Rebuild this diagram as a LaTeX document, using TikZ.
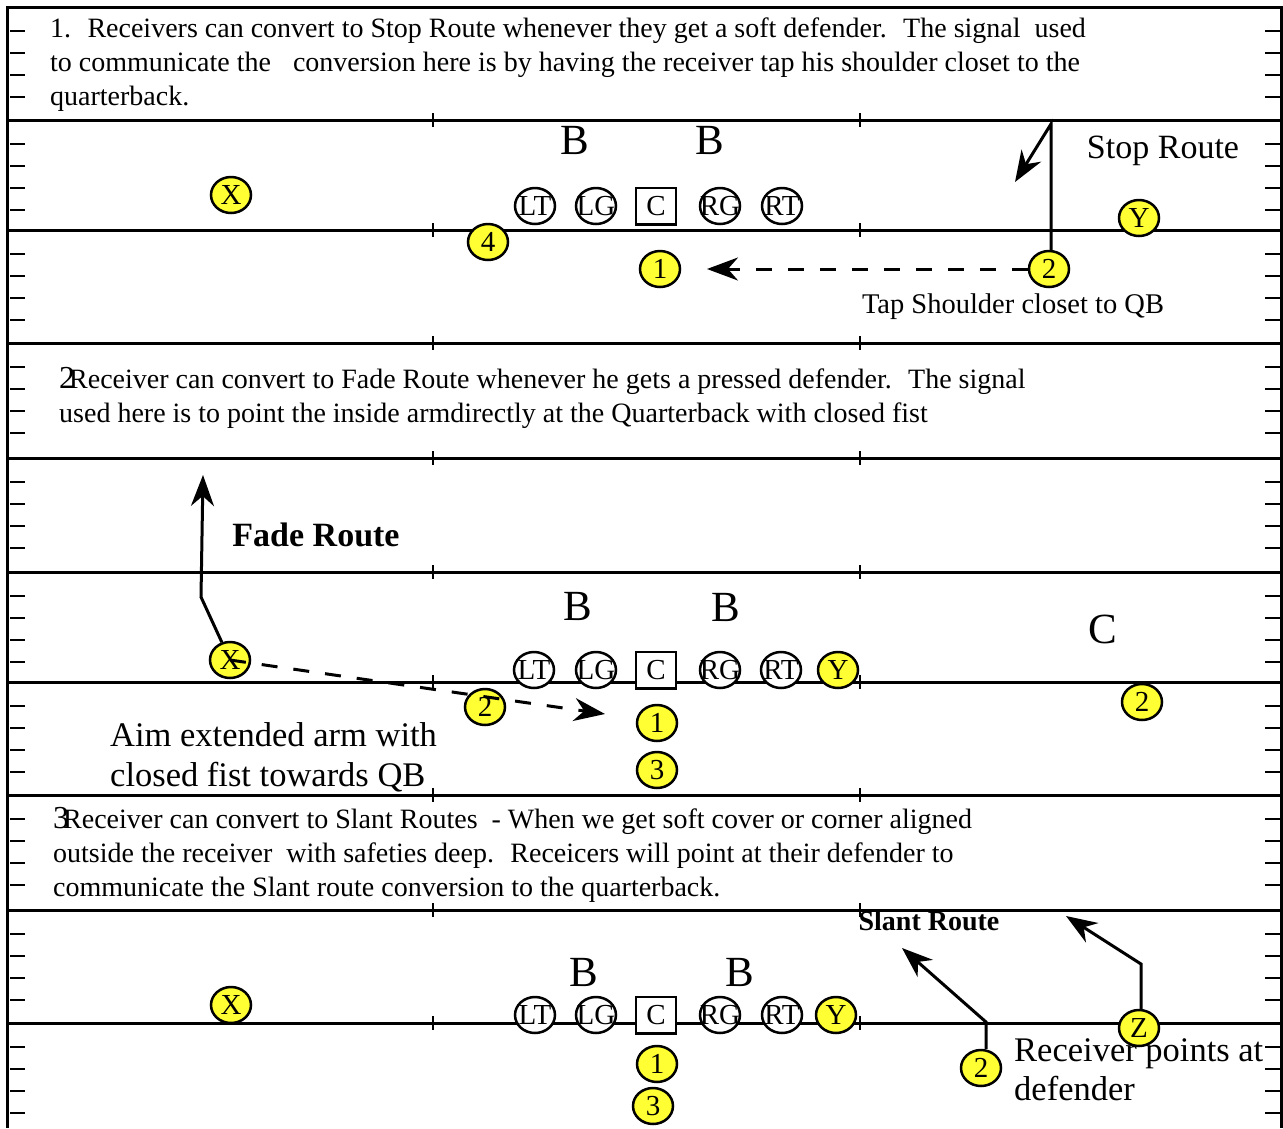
\documentclass[tikz,border=0pt]{standalone}
\usepackage{fontspec}
\setmainfont{Liberation Serif}
\usetikzlibrary{arrows.meta,shapes.geometric}
\definecolor{PlayerYellow}{HTML}{FFFF33}
\newcommand{\setfs}[1]{\fontsize{#1}{#1}\selectfont}

\begin{document}
\begin{tikzpicture}[x=1pt, y=-1pt,
    field/.style={line width=3pt},
    yardtick/.style={line width=2.5pt},
    player/.style={ellipse, draw, line width=2.5pt, fill=PlayerYellow,
      minimum width=40pt, minimum height=36pt, inner sep=0pt, font=\setfs{29},
      execute at begin node={\hbox to 0pt\bgroup\hss},
      execute at end node={\hss\egroup}},
    lineman/.style={player, fill=white},
    centre/.style={draw, line width=2.5pt, fill=white, minimum width=40pt,
      minimum height=36.5pt, inner sep=0pt, font=\setfs{29}},
    backer/.style={inner sep=0pt, font=\setfs{43}},
    memo/.style={anchor=north west, align=left, inner sep=0pt,
      font=\fontsize{28}{33.8}\selectfont},
    remark/.style={anchor=north west, align=left, inner sep=0pt,
      font=\fontsize{34.5}{39.5}\selectfont},
    route/.style={line width=3pt, -{Stealth[length=31pt, width=23pt, inset=10pt]}},
    signal/.style={route, dash pattern=on 16pt off 16pt}
  ]
  \useasboundingbox (0,0) rectangle (1283,1128);
  % field
  \draw[field] (7,1128) -- (7,7) -- (1281,7) -- (1281,1128);
  \foreach \y in {120,230,343,458,572,682,795,910,1023} {
    \draw[field] (7,\y) -- (1281,\y);
    \draw[yardtick] (433,\y-7) -- (433,\y+7);
    \draw[yardtick] (860,\y-7) -- (860,\y+7);
  }
  \foreach \y in {7,120,230,343,458,572,682,795,910,1023}
    \foreach \d in {24,46,68,90} {
      \draw[yardtick] (10,\y+\d) -- (25,\y+\d);
      \draw[yardtick] (1265,\y+\d) -- (1280,\y+\d);
    }

  % 1. stop route
  \node[memo] (text1) at (50,18) {1.~ Receivers can convert to Stop Route whenever they get a soft defender.~ The signal~ used\\
    to communicate the\hspace{22pt}conversion here is by having the receiver tap his shoulder closet to the\\
    quarterback.};
  \node[backer] (bl1) at (575,140) {B};
  \node[backer] (br1) at (710,140) {B};
  \node[lineman] (lt1) at (535,206) {LT};
  \node[lineman] (lg1) at (596,206) {LG};
  \node[centre] (c1) at (656,206) {C};
  \node[lineman] (rg1) at (720,206) {RG};
  \node[lineman] (rt1) at (782,206) {RT};
  \node[player] (x1) at (231,195) {X};
  \node[player] (y1) at (1139,218) {Y};
  \node[player] (four1) at (488,242) {4};
  \node[player] (one1) at (660,269) {1};
  \node[player] (two1) at (1049,269) {2};
  \coordinate (stopturn) at (1051,124);
  \coordinate (stopend) at (1015,182);
  \coordinate (tapend) at (707,269);
  \draw[route] (two1.north -| stopturn) -- (stopturn) -- (stopend);
  \draw[signal] (two1) -- (tapend);
  \node[font=\setfs{34}] (stoplabel) at (1163,151) {Stop Route};
  \node[font=\setfs{28.5}] (taplabel) at (1013,307) {Tap Shoulder closet to QB};

  % 2. fade route
  \node[memo] (text2) at (59,367.5) {{\setfs{32}2}\kern-6pt Receiver can convert to Fade Route whenever he gets a pressed defender.~ The signal\\
    used here is to point the inside armdirectly at the Quarterback with closed fist};
  \node[backer] (bl2) at (578,606) {B};
  \node[backer] (br2) at (726,607) {B};
  \node[lineman] (lt2) at (534,670) {LT};
  \node[lineman] (lg2) at (596,670) {LG};
  \node[centre] (c2) at (656,670) {C};
  \node[lineman] (rg2) at (720,670) {RG};
  \node[lineman] (rt2) at (781,670) {RT};
  \node[player] (y2) at (838,670) {Y};
  \node[player] (x2) at (230,660) {X};
  \node[player] (two2) at (485,707) {2};
  \node[player] (one2) at (657,723) {1};
  \node[player] (three2) at (657,770) {3};
  \node[backer] (cb2) at (1103,629) {C};
  \node[player] (two2r) at (1142,702) {2};
  \coordinate (fadeturn) at (201,597);
  \coordinate (fadeend) at (203,475);
  \coordinate (aimend) at (605,714);
  \draw[route] (x2) -- (fadeturn) -- (fadeend);
  \draw[signal] (x2.center) -- (aimend);
  \node[font=\bfseries\setfs{34}] (fadelabel) at (316,535) {Fade Route};
  \node[remark] (aimlabel) at (110,722.5) {Aim extended arm with\\closed fist towards QB};

  % 3. slant route
  \node[memo] (text3) at (53,807.5) {{\setfs{32}3}\kern-6pt Receiver can convert to Slant Routes~ - When we get soft cover or corner aligned\\
    outside the receiver~ with safeties deep.~ Receicers will point at their defender to\\
    communicate the Slant route conversion to the quarterback.};
  \node[font=\bfseries\setfs{28}] (slantlabel) at (929,921) {Slant Route};
  \node[backer] (bl3) at (584,972) {B};
  \node[backer] (br3) at (740,972) {B};
  \node[lineman] (lt3) at (535,1015) {LT};
  \node[lineman] (lg3) at (596,1015) {LG};
  \node[centre] (c3) at (656,1015) {C};
  \node[lineman] (rg3) at (720,1015) {RG};
  \node[lineman] (rt3) at (782,1015) {RT};
  \node[player] (y3) at (836,1015) {Y};
  \node[player] (x3) at (231,1005) {X};
  \node[player] (one3) at (657,1064) {1};
  \node[player] (three3) at (653,1106) {3};
  \node[player] (two3) at (981,1068) {2};
  \node[player] (z3) at (1139,1028) {Z};
  \coordinate (slantturn) at (986,1022);
  \coordinate (slantend) at (902,948);
  \coordinate (zturn) at (1141,964);
  \coordinate (zend) at (1066,916);
  \draw[route] (two3.north -| slantturn) -- (slantturn) -- (slantend);
  \draw[route] (z3.north -| zturn) -- (zturn) -- (zend);
  \node[remark] (pointlabel) at (1014,1038) {Receiver points at\\defender};
\end{tikzpicture}
\end{document}
